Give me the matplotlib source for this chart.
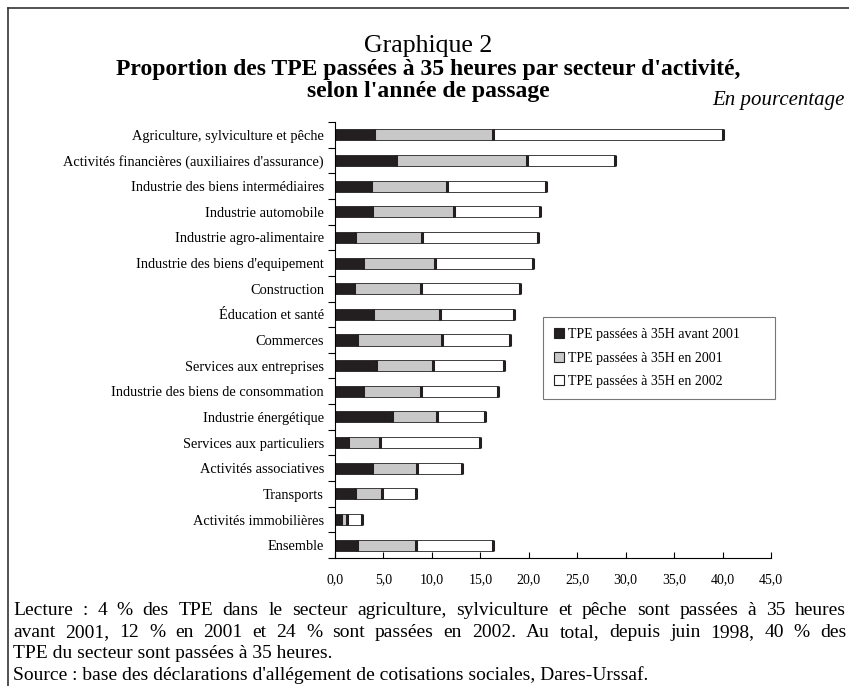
import numpy as np
import matplotlib
matplotlib.use("Agg")
from matplotlib import pyplot as plt
from matplotlib.lines import Line2D
from matplotlib.patches import Patch

plt.rcParams["font.family"] = ["Liberation Serif", "DejaVu Serif"]

# === données (en %) ===
secteurs = [
    "Agriculture, sylviculture et pêche",
    "Activités financières (auxiliaires d'assurance)",
    "Industrie des biens intermédiaires",
    "Industrie automobile",
    "Industrie agro-alimentaire",
    "Industrie des biens d'equipement",
    "Construction",
    "Éducation et santé",
    "Commerces",
    "Services aux entreprises",
    "Industrie des biens de consommation",
    "Industrie énergétique",
    "Services aux particuliers",
    "Activités associatives",
    "Transports",
    "Activités immobilières",
    "Ensemble",
]
avant_2001 = [4.0, 6.3, 3.7, 3.85, 2.1, 2.85, 2.0, 3.9, 2.3, 4.2, 2.85, 5.85, 1.3, 3.8, 2.05, 0.6, 2.3]
en_2001 = [12.3, 13.5, 7.9, 8.45, 6.9, 7.45, 6.85, 6.9, 8.7, 5.9, 6.05, 4.65, 3.3, 4.7, 2.8, 0.65, 6.1]
en_2002 = [23.7, 9.1, 10.2, 8.9, 12.0, 10.1, 10.25, 7.7, 7.1, 7.3, 7.9, 5.0, 10.4, 4.65, 3.55, 1.55, 7.9]
series_labels = ["TPE passées à 35H avant 2001", "TPE passées à 35H en 2001", "TPE passées à 35H en 2002"]
series_colors = ["#231f20", "#c8c8c8", "#ffffff"]
x_ticks = [0, 5, 10, 15, 20, 25, 30, 35, 40, 45]

lecture_lignes = [
    "Lecture : 4 % des TPE dans le secteur agriculture, sylviculture et pêche sont passées à 35 heures",
    "avant 2001, 12 % en 2001 et 24 % sont passées en 2002. Au total, depuis juin 1998, 40 % des",
    "TPE du secteur sont passées à 35 heures.",
    "Source : base des déclarations d'allégement de cotisations sociales, Dares-Urssaf.",
]

W, H = 849, 686
fig = plt.figure(figsize=(W / 100, H / 100), dpi=100)
ax_l, ax_r, ax_t, ax_b = 335, 771, 122, 558
ax = fig.add_axes([ax_l / W, 1 - ax_b / H, (ax_r - ax_l) / W, (ax_b - ax_t) / H])

y = np.arange(len(secteurs))
left = np.zeros(len(secteurs))
for vals, col in zip([avant_2001, en_2001, en_2002], series_colors):
    vals = np.array(vals)
    ax.barh(y, vals, left=left, height=0.43, color=col, edgecolor="#231f20", linewidth=0.6, zorder=2)
    left = left + vals
    # bord droit épais de chaque segment
    ax.vlines(left, y - 0.215, y + 0.215, colors="#231f20", linewidth=2.2, zorder=3)

ax.set_xlim(0, 45)
ax.set_ylim(len(secteurs) - 0.5, -0.5)
ax.set_xticks(x_ticks)
ax.set_xticklabels([f"{v:.1f}".replace(".", ",") for v in x_ticks], fontsize=10)
ax.tick_params(axis="x", direction="in", length=4, width=0.8, pad=11)
ax.set_yticks(y)
ax.set_yticklabels(secteurs, fontsize=10.4)
ax.tick_params(axis="y", length=0, pad=8)
ax.set_yticks(np.arange(len(secteurs) + 1) - 0.5, minor=True)
ax.tick_params(axis="y", which="minor", direction="out", length=5, width=0.8)
for s in ["top", "right"]:
    ax.spines[s].set_visible(False)
for s in ["left", "bottom"]:
    ax.spines[s].set_linewidth(0.8)

# légende étirée sur la largeur du cadre d'origine
aw, ah = ax_r - ax_l, ax_b - ax_t
leg_box = ((543 - ax_l) / aw, 1 - (397 - ax_t) / ah, (775 - 543) / aw, (397 - 317) / ah)
handles = [Patch(facecolor=c, edgecolor="#231f20", linewidth=0.8) for c in series_colors]
leg = ax.legend(handles, series_labels, loc="upper left", bbox_to_anchor=leg_box, mode="expand",
                fontsize=10, frameon=True, fancybox=False, edgecolor="#555555", handlelength=0.7, handleheight=0.7,
                handletextpad=0.3, labelspacing=0.75, borderpad=0.8, borderaxespad=0)
leg.get_frame().set_linewidth(0.8)

# === titres ===
fig.text(428 / W, 1 - 46 / H, "Graphique 2", ha="center", va="center", fontsize=18.5)
fig.text(428 / W, 1 - 70 / H, "Proportion des TPE passées à 35 heures par secteur d'activité,",
         ha="center", va="center", fontsize=17, fontweight="bold")
fig.text(428 / W, 1 - 91 / H, "selon l'année de passage", ha="center", va="center", fontsize=17, fontweight="bold")
fig.text(845 / W, 1 - 100 / H, "En pourcentage", ha="right", va="center", fontsize=15, style="italic")

# === cadre ===
fig.add_artist(Line2D([8 / W, 8 / W], [0, 1 - 8 / H], transform=fig.transFigure, color="#333333", linewidth=1.2))
fig.add_artist(Line2D([8 / W, 1], [1 - 8 / H, 1 - 8 / H], transform=fig.transFigure, color="#333333", linewidth=1.2))

# === texte de lecture (justifié pour les deux premières lignes) ===
renderer = fig.canvas.get_renderer()
x0, x1 = 13, 846
ys = [615, 637, 658, 680]
fs = 14
for i, (ligne, yy) in enumerate(zip(lecture_lignes, ys)):
    if i < 2:
        mots = ligne.split(" ")
        largeurs = []
        for m in mots:
            t = fig.text(0, 0, m, fontsize=fs)
            largeurs.append(t.get_window_extent(renderer).width)
            t.remove()
        espace = (x1 - x0 - sum(largeurs)) / (len(mots) - 1)
        xc = x0
        for m, w in zip(mots, largeurs):
            fig.text(xc / W, 1 - yy / H, m, ha="left", va="baseline", fontsize=fs)
            xc += w + espace
    else:
        fig.text(x0 / W, 1 - yy / H, ligne, ha="left", va="baseline", fontsize=fs)

fig.savefig("out.png", dpi=100)
